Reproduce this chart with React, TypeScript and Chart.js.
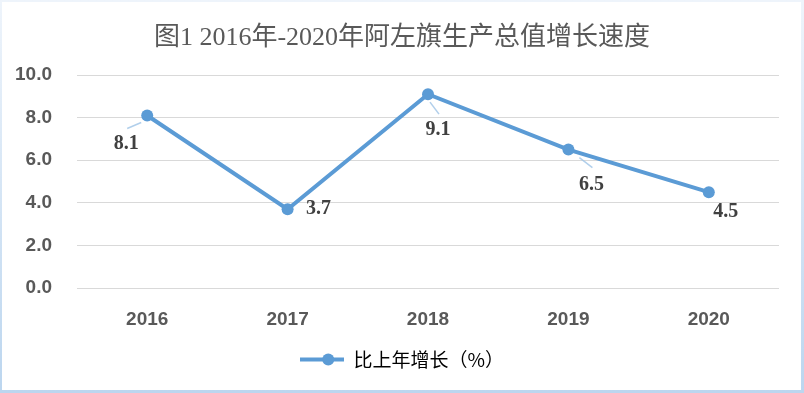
import React, { useEffect, useRef } from "react";
import { Chart, registerables } from "chart.js";

Chart.register(...registerables);

const categories = ["2016", "2017", "2018", "2019", "2020"];
const growth = [8.1, 3.7, 9.1, 6.5, 4.5];
const seriesName = "比上年增长（%）";
const titleText = "图1 2016年-2020年阿左旗生产总值增长速度";

// label offsets relative to point (px), and leader segments (from, to) relative to point
const labelOffsets = [[-21, 28], [31, 0], [10, 36], [23, 35], [17, 20]];
const leaders: (number[] | null)[] = [[-20, 13, -6, 7], null, [2, 8, 11, 20], [11, 8, 24, 18], null];

const BLUE = "#5b9bd5";

const dataLabelPlugin = {
  id: "dataLabels",
  afterDatasetsDraw(chart: any) {
    const ctx = chart.ctx;
    const meta = chart.getDatasetMeta(0);
    ctx.save();
    meta.data.forEach((pt: any, i: number) => {
      const lead = leaders[i];
      if (lead) {
        ctx.strokeStyle = "rgba(157,195,230,0.8)";
        ctx.lineWidth = 1.5;
        ctx.beginPath();
        ctx.moveTo(pt.x + lead[0], pt.y + lead[1]);
        ctx.lineTo(pt.x + lead[2], pt.y + lead[3]);
        ctx.stroke();
      }
      const off = labelOffsets[i];
      ctx.fillStyle = "#404040";
      ctx.font = "bold 20px 'Liberation Serif', serif";
      ctx.textAlign = "center";
      ctx.textBaseline = "middle";
      ctx.fillText(growth[i].toFixed(1), pt.x + off[0], pt.y + off[1]);
    });
    ctx.restore();
  },
};

// center title and legend over the full canvas width
const centerBlocksPlugin = {
  id: "centerBlocks",
  afterLayout(chart: any) {
    const full = chart.width;
    const t = chart.titleBlock;
    if (t) {
      t.left = 0;
      t.right = full;
      t.width = full;
    }
    const l = chart.legend;
    if (l) {
      chart.$legendShift = full / 2 - (l.left + l.right) / 2;
      l.left = 0;
      l.right = full;
      l.width = full;
    }
  },
};

const legendDotPlugin = {
  id: "legendDot",
  afterDraw(chart: any) {
    const legend = chart.legend;
    if (!legend || !legend.legendHitBoxes || !legend.legendHitBoxes.length) return;
    const hb = legend.legendHitBoxes[0];
    const boxW = legend.options.labels.boxWidth;
    const shift = chart.$legendShift || 0;
    const ctx = chart.ctx;
    ctx.save();
    ctx.fillStyle = BLUE;
    ctx.beginPath();
    ctx.arc(hb.left + shift + boxW / 2, hb.top + hb.height / 2, 6, 0, Math.PI * 2);
    ctx.fill();
    ctx.restore();
  },
};

export default function App() {
  const ref = useRef<HTMLCanvasElement | null>(null);
  useEffect(() => {
    if (!ref.current) return;
    const chart = new Chart(ref.current, {
      type: "line",
      data: {
        labels: categories,
        datasets: [
          {
            label: seriesName,
            data: growth,
            borderColor: BLUE,
            backgroundColor: BLUE,
            borderWidth: 4,
            pointRadius: 6,
            pointBackgroundColor: BLUE,
            pointBorderColor: BLUE,
            pointBorderWidth: 0,
            tension: 0,
          },
        ],
      },
      options: {
        responsive: false,
        animation: false,
        layout: { padding: { left: 12.5, right: 25, top: 0, bottom: 14 } },
        plugins: {
          title: {
            display: true,
            text: titleText,
            color: "#595959",
            font: { family: "'Liberation Serif', 'Noto Sans CJK SC', serif", size: 26, weight: "normal" },
            padding: { top: 22.4, bottom: 21.4 },
          },
          legend: {
            display: true,
            position: "bottom",
            labels: {
              boxWidth: 44,
              boxHeight: 4,
              padding: 10,
              color: "#595959",
              font: { family: "'Noto Sans CJK SC', sans-serif", size: 19 },
              generateLabels: () => [
                {
                  text: seriesName,
                  fillStyle: BLUE,
                  strokeStyle: BLUE,
                  lineWidth: 0,
                  datasetIndex: 0,
                  hidden: false,
                },
              ],
            },
          },
          tooltip: { enabled: false },
        },
        scales: {
          x: {
            offset: true,
            grid: { display: false, drawTicks: false },
            border: { display: false },
            ticks: {
              padding: 20,
              color: "#595959",
              font: { family: "'Liberation Sans', sans-serif", size: 19, weight: "bold" },
            },
            afterFit: (s: any) => {
              s.height = 52;
            },
          },
          y: {
            min: 0,
            max: 10,
            grid: { color: "#d9d9d9", lineWidth: 1, drawTicks: false },
            border: { display: false },
            ticks: {
              stepSize: 2,
              padding: 25,
              color: "#595959",
              font: { family: "'Liberation Sans', sans-serif", size: 19, weight: "bold" },
              callback: (v: any) => Number(v).toFixed(1),
            },
            afterFit: (s: any) => {
              s.width = 64.5;
            },
          },
        },
      },
      plugins: [centerBlocksPlugin, dataLabelPlugin, legendDotPlugin],
    });
    return () => chart.destroy();
  }, []);
  return (
    <div style={{ position: "fixed", left: 0, top: 0, width: 804, height: 393, background: "#fff" }}>
      <canvas ref={ref} width={804} height={393} style={{ display: "block" }} />
      <div
        style={{
          position: "absolute",
          left: 0,
          top: 0,
          width: 804,
          height: 393,
          boxSizing: "border-box",
          borderStyle: "solid",
          borderWidth: "2px 3px 3px 2px",
          borderImage: "linear-gradient(to bottom, #eef4fb, #bcd6ef) 1",
          pointerEvents: "none",
        }}
      />
    </div>
  );
}
